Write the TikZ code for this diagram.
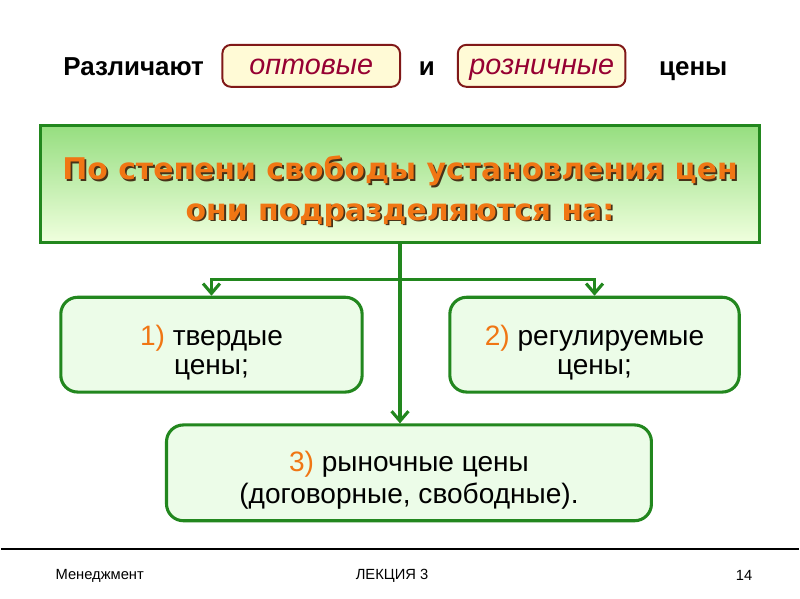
\documentclass[tikz,border=0pt]{standalone}
\usepackage{fontspec}
\setmainfont{Liberation Sans}
\newfontfamily\headfont{DejaVu Sans}
\usepackage{xcolor}
\usepackage{tikz}
\usetikzlibrary{arrows.meta,positioning}
\definecolor{ramka}{RGB}{34,135,30}
\definecolor{boxfill}{RGB}{236,252,232}
\definecolor{greentop}{RGB}{150,222,128}
\definecolor{greenbot}{RGB}{240,255,222}
\definecolor{oranzh}{RGB}{240,118,20}
\definecolor{shadowc}{RGB}{70,50,25}
\definecolor{vidred}{RGB}{128,24,24}
\definecolor{vidfill}{RGB}{255,250,214}
\definecolor{vidtext}{RGB}{150,0,50}
\newcommand{\podyom}[1]{\rule{0pt}{#1}}

\begin{document}
\begin{tikzpicture}[x=0.025cm,y=-0.025cm,
	slovo/.style={anchor=base, font=\bfseries\fontsize{18.5}{20}\selectfont},
	vidbox/.style={draw=vidred, line width=1.4pt, rounded corners=6pt, fill=vidfill,
		text=vidtext, font=\fontsize{20.5}{22}\selectfont\itshape, minimum height=1.05cm,
		text height=12pt, text depth=0pt},
	tipbox/.style={draw=ramka, line width=2.2pt, rounded corners=12pt, fill=boxfill,
		align=center, font=\fontsize{20}{20.5}\selectfont},
	headtext/.style={align=center, font=\headfont\bfseries\fontsize{21.3}{29}\selectfont},
	podval/.style={font=\fontsize{10.5}{12}\selectfont},
	strelka/.style={draw=ramka, line width=2.2pt, -{Straight Barb[length=7pt,width=12pt]}}]
			\fill[white] (0,0) rectangle (800,600);
			\node[slovo] (razl) at (133,76) {Различают};
			\node[vidbox, minimum width=4.45cm] (opt) at (311,66) {оптовые};
			\node[slovo] (i) at (427,76) {и};
			\node[vidbox, minimum width=4.2cm] (rozn) at (542,66) {розничные};
			\node[slovo] (ceny) at (694,76) {цены};
			\node[draw=ramka, line width=2.2pt, top color=greentop, bottom color=greenbot,
				minimum width=18cm, minimum height=2.925cm] (title) at (400,184.5) {};
			\node[headtext, text=shadowc] (tshadow) at (401.8,193.3) {По степени свободы установления цен\\они подразделяются на:};
			\node[headtext, text=oranzh] (ttext) at (400,191.5) {По степени свободы установления цен\\они подразделяются на:};
			\node[tipbox, minimum width=7.55cm, minimum height=2.375cm] (odin) at (211,345.5)
				{\podyom{26pt}\textcolor{oranzh}{1)} твердые\\цены;};
			\node[tipbox, minimum width=7.25cm, minimum height=2.375cm] (dva) at (595,345.5)
				{\podyom{26pt}\textcolor{oranzh}{2)} регулируемые\\цены;};
			\node[tipbox, minimum width=12.15cm, minimum height=2.4cm,
				font=\fontsize{20}{23}\selectfont] (tri) at (409,474)
				{\podyom{25pt}\textcolor{oranzh}{3)} рыночные цены\\(договорные, свободные).};
			\coordinate (razv) at (400,280);
			\draw[strelka] (title.south) -- (title.south |- tri.north);
			\draw[strelka] (razv) -| (odin.north);
			\draw[strelka] (razv) -| (dva.north);
			\draw[line width=1.4pt] (0,550) -- (800,550);
			\node[podval] (predmet) at (99,577) {Менеджмент};
			\node[podval] (lekciya) at (392,577) {ЛЕКЦИЯ 3};
			\node[podval] (nomer) at (745,577) {14};
		\end{tikzpicture}
\end{document}
